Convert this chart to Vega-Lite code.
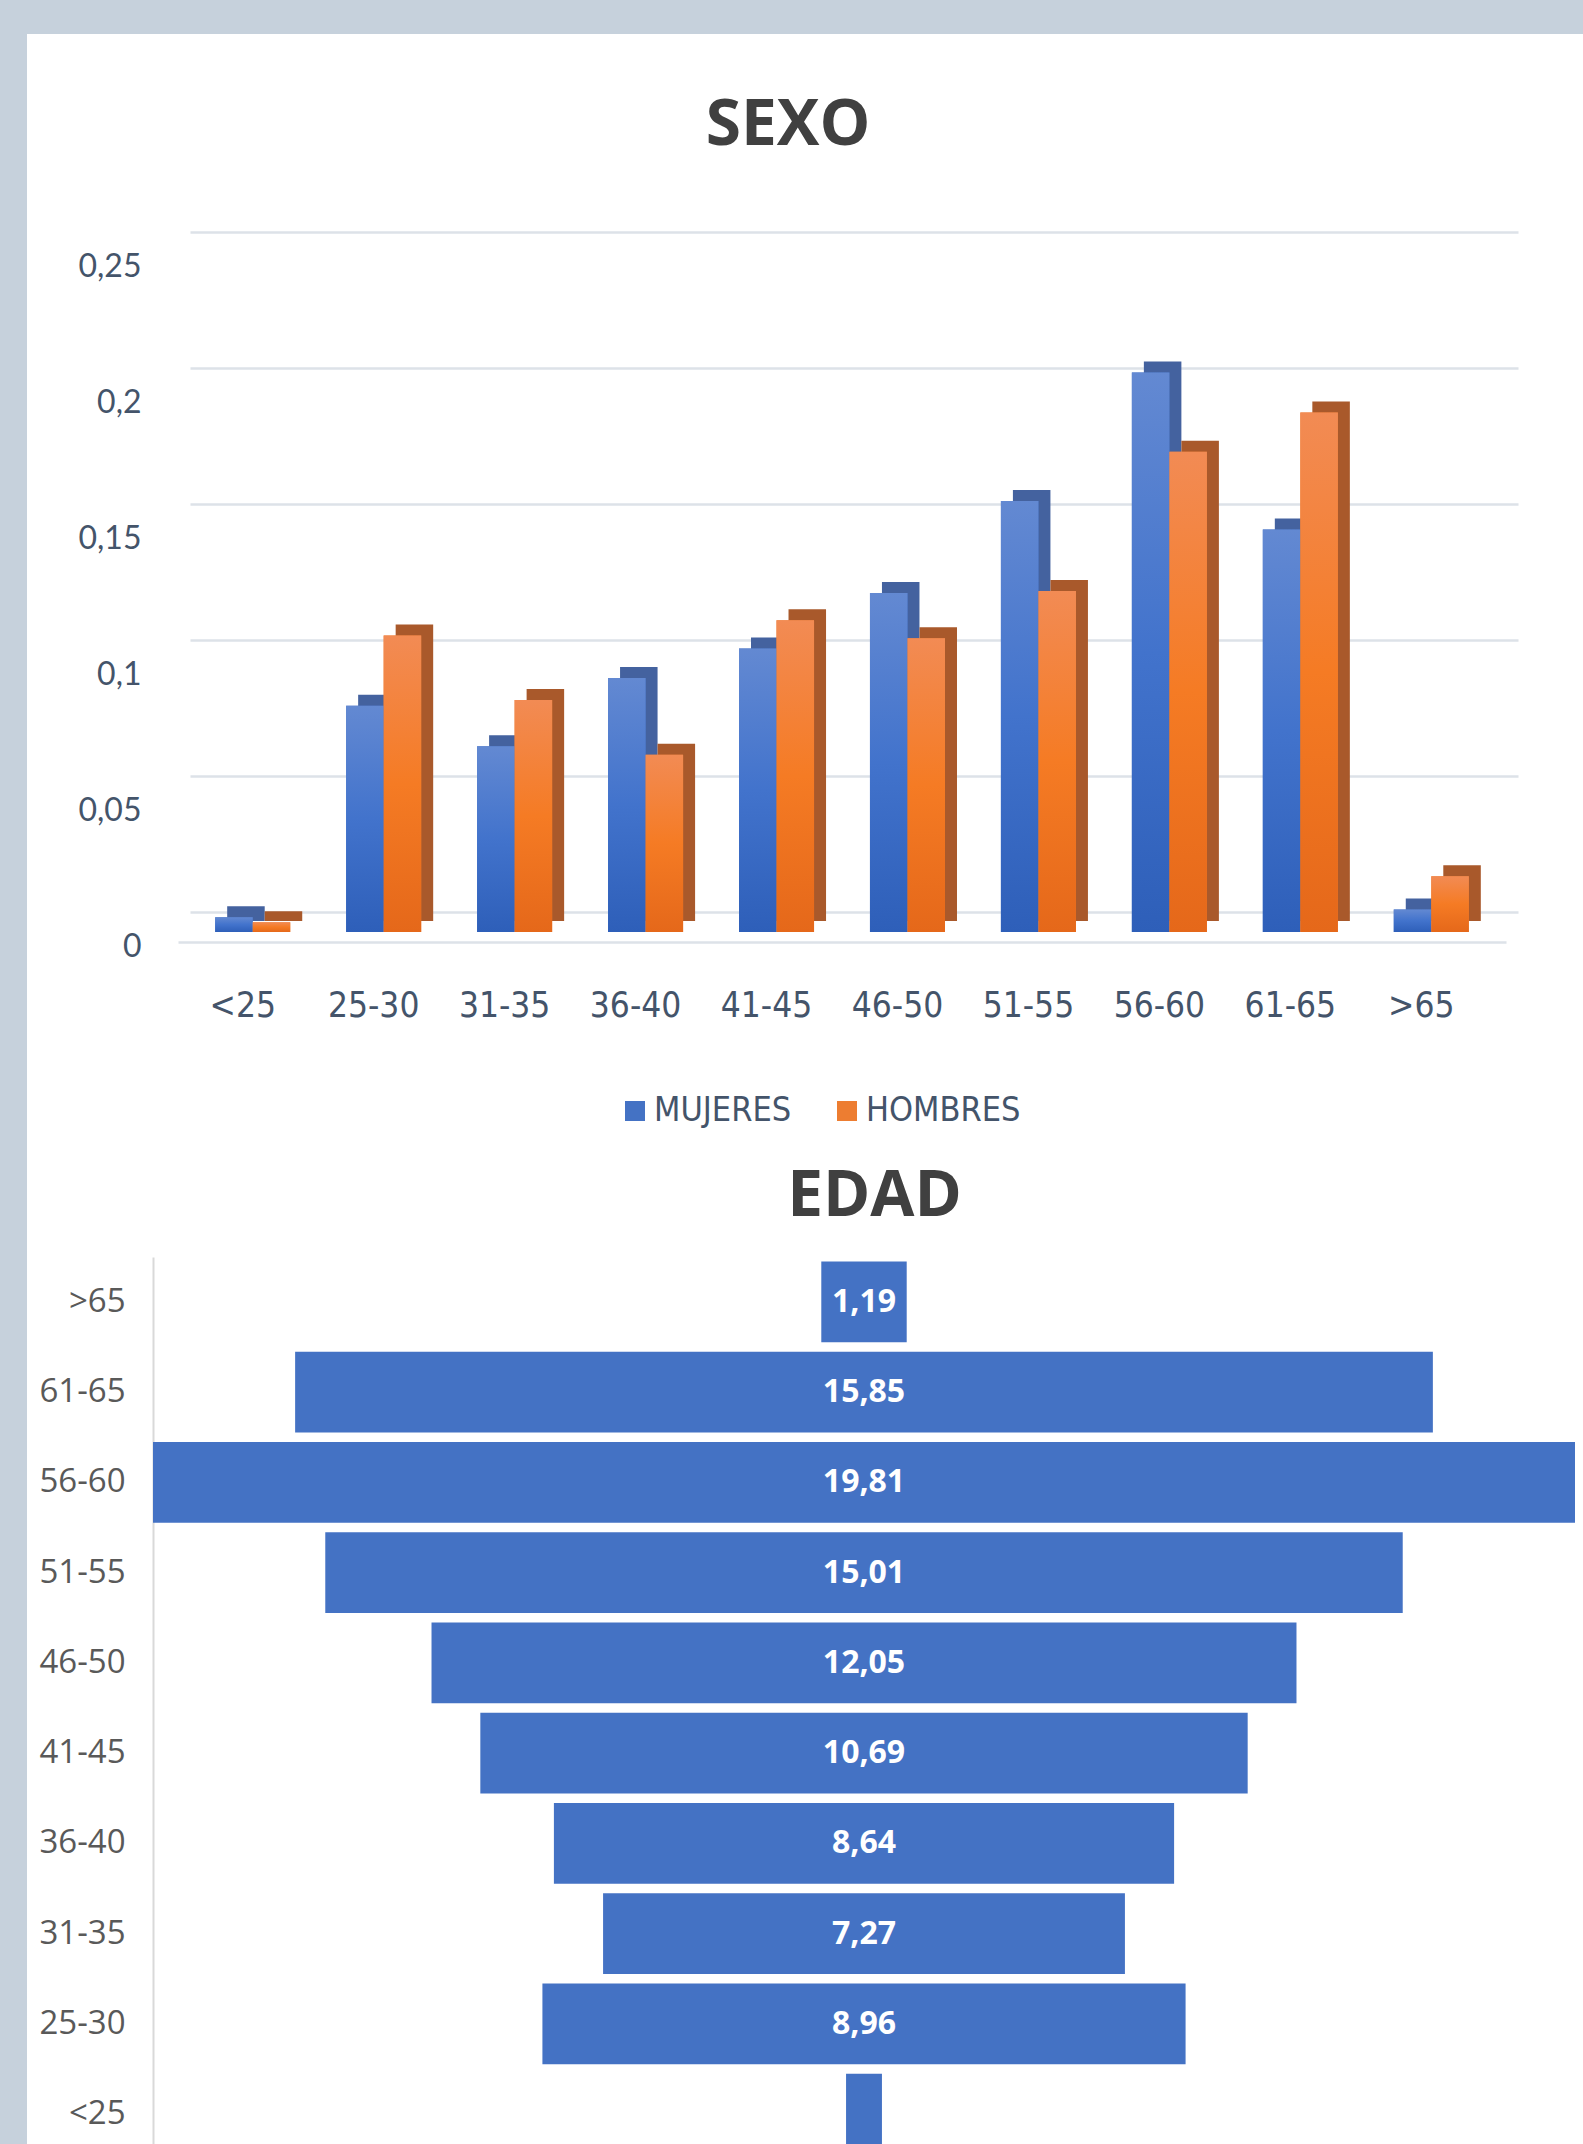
{
  "$schema": "https://vega.github.io/schema/vega-lite/v6.json",
  "background": "white",
  "padding": 0,
  "autosize": {"type": "pad"},
  "config": {
    "locale": {"number": {"decimal": ",", "thousands": ".", "grouping": [3], "currency": ["", " €"]}},
    "view": {"stroke": null},
    "concat": {"spacing": 0}
  },
  "datasets": {
    "vacio": [],
    "sexo": [
      {"edad": "<25", "sexo": "MUJERES", "valor": 0.0054},
      {"edad": "<25", "sexo": "HOMBRES", "valor": 0.0036},
      {"edad": "25-30", "sexo": "MUJERES", "valor": 0.0832},
      {"edad": "25-30", "sexo": "HOMBRES", "valor": 0.109},
      {"edad": "31-35", "sexo": "MUJERES", "valor": 0.0683},
      {"edad": "31-35", "sexo": "HOMBRES", "valor": 0.0853},
      {"edad": "36-40", "sexo": "MUJERES", "valor": 0.0934},
      {"edad": "36-40", "sexo": "HOMBRES", "valor": 0.0652},
      {"edad": "41-45", "sexo": "MUJERES", "valor": 0.1042},
      {"edad": "41-45", "sexo": "HOMBRES", "valor": 0.1146},
      {"edad": "46-50", "sexo": "MUJERES", "valor": 0.1246},
      {"edad": "46-50", "sexo": "HOMBRES", "valor": 0.108},
      {"edad": "51-55", "sexo": "MUJERES", "valor": 0.1585},
      {"edad": "51-55", "sexo": "HOMBRES", "valor": 0.1254},
      {"edad": "56-60", "sexo": "MUJERES", "valor": 0.2057},
      {"edad": "56-60", "sexo": "HOMBRES", "valor": 0.1766},
      {"edad": "61-65", "sexo": "MUJERES", "valor": 0.148},
      {"edad": "61-65", "sexo": "HOMBRES", "valor": 0.191},
      {"edad": ">65", "sexo": "MUJERES", "valor": 0.0083},
      {"edad": ">65", "sexo": "HOMBRES", "valor": 0.0205}
    ],
    "edad": [
      {"edad": ">65", "pct": 1.19},
      {"edad": "61-65", "pct": 15.85},
      {"edad": "56-60", "pct": 19.81},
      {"edad": "51-55", "pct": 15.01},
      {"edad": "46-50", "pct": 12.05},
      {"edad": "41-45", "pct": 10.69},
      {"edad": "36-40", "pct": 8.64},
      {"edad": "31-35", "pct": 7.27},
      {"edad": "25-30", "pct": 8.96},
      {"edad": "<25", "pct": 0.5}
    ]
  },
  "spacing": 0,
  "vconcat": [
    {
      "data": {"name": "vacio"},
      "mark": "point",
      "encoding": {},
      "width": 1583,
      "height": 34,
      "view": {"fill": "#c6d1dc", "stroke": null}
    },
    {
      "spacing": 0,
      "hconcat": [
        {
          "data": {"name": "vacio"},
          "mark": "point",
          "encoding": {},
          "width": 27,
          "height": 2200,
          "view": {"fill": "#c6d1dc", "stroke": null}
        },
        {
          "spacing": 0,
          "vconcat": [
            {
              "data": {"name": "vacio"},
              "mark": "point",
              "encoding": {},
              "width": 1,
              "height": 60
            },
            {
              "spacing": 37,
              "vconcat": [
                {
                  "width": 1328,
                  "height": 680,
                  "data": {"name": "sexo"},
                  "title": {
                    "text": "SEXO",
                    "font": "Open Sans",
                    "fontSize": 64,
                    "fontWeight": "bold",
                    "color": "#404040",
                    "anchor": "middle",
                    "frame": "group",
                    "dx": -54,
                    "baseline": "alphabetic",
                    "offset": 41
                  },
                  "encoding": {
                    "y": {
                      "field": "valor",
                      "type": "quantitative",
                      "scale": {"domain": [0, 0.25], "nice": false},
                      "axis": {
                        "title": null,
                        "values": [0, 0.05, 0.1, 0.15, 0.2, 0.25],
                        "format": "~f",
                        "domain": false,
                        "ticks": false,
                        "labelPadding": 37,
                        "labelFont": "Lato",
                        "labelFontSize": 32,
                        "labelColor": "#44546a",
                        "labelFlush": false,
                        "labelOverlap": false,
                        "grid": true,
                        "gridColor": "#dde2e8",
                        "gridWidth": 2.5,
                        "tickOffset": -20,
                        "labelOffset": 34,
                        "minExtent": 151,
                        "maxExtent": 151
                      }
                    }
                  },
                  "layer": [
                    {
                      "mark": {"type": "bar", "yOffset": -11},
                      "encoding": {
                        "x": {
                          "field": "edad",
                          "type": "nominal",
                          "sort": ["<25", "25-30", "31-35", "36-40", "41-45", "46-50", "51-55", "56-60", "61-65", ">65"],
                          "scale": {"paddingInner": 0.427, "paddingOuter": 0.284, "range": [12, 1340]},
                          "axis": null
                        },
                        "xOffset": {
                          "field": "sexo",
                          "type": "nominal",
                          "sort": ["MUJERES", "HOMBRES"],
                          "scale": {"paddingInner": 0, "paddingOuter": 0}
                        },
                        "color": {
                          "field": "sexo",
                          "type": "nominal",
                          "scale": {"domain": ["MUJERES", "HOMBRES"], "range": ["#44629f", "#a9592b"]},
                          "legend": null
                        }
                      }
                    },
                    {
                      "mark": {"type": "bar"},
                      "encoding": {
                        "x": {
                          "field": "edad",
                          "type": "nominal",
                          "sort": ["<25", "25-30", "31-35", "36-40", "41-45", "46-50", "51-55", "56-60", "61-65", ">65"],
                          "scale": {"paddingInner": 0.427, "paddingOuter": 0.284},
                          "axis": {
                            "title": null,
                            "labelAngle": 0,
                            "ticks": false,
                            "offset": 10,
                            "domainColor": "#dde2e8",
                            "domainWidth": 2.5,
                            "labelPadding": 46,
                            "labelOffset": -10,
                            "labelFont": "DejaVu Sans Condensed, Roboto Condensed, Roboto",
                            "labelFontSize": 35,
                            "labelColor": "#44546a",
                            "grid": false
                          }
                        },
                        "xOffset": {
                          "field": "sexo",
                          "type": "nominal",
                          "sort": ["MUJERES", "HOMBRES"],
                          "scale": {"paddingInner": 0, "paddingOuter": 0}
                        },
                        "color": {
                          "field": "sexo",
                          "type": "nominal",
                          "scale": {"domain": ["MUJERES", "HOMBRES"], "range": ["#4472c4", "#ed7d31"]},
                          "legend": {
                            "title": null,
                            "orient": "none",
                            "legendX": 440,
                            "legendY": 842,
                            "direction": "horizontal",
                            "padding": 0,
                            "symbolType": "square",
                            "symbolSize": 400,
                            "symbolStrokeWidth": 0,
                            "labelFont": "DejaVu Sans Condensed, Roboto Condensed, Roboto",
                            "labelFontSize": 34,
                            "labelColor": "#44546a",
                            "labelOffset": 2,
                            "columnPadding": 38
                          }
                        }
                      }
                    },
                    {
                      "transform": [{"filter": "datum.sexo === 'MUJERES'"}],
                      "mark": {
                        "type": "bar",
                        "color": {"gradient": "linear", "x1": 0, "y1": 0, "x2": 0, "y2": 1, "stops": [{"offset": 0, "color": "#6389d2"}, {"offset": 0.5, "color": "#4273cc"}, {"offset": 1, "color": "#2e5fb9"}]}
                      },
                      "encoding": {
                        "x": {
                          "field": "edad",
                          "type": "nominal",
                          "sort": ["<25", "25-30", "31-35", "36-40", "41-45", "46-50", "51-55", "56-60", "61-65", ">65"],
                          "scale": {"paddingInner": 0.427, "paddingOuter": 0.284},
                          "axis": null
                        },
                        "xOffset": {
                          "field": "sexo",
                          "type": "nominal",
                          "sort": ["MUJERES", "HOMBRES"],
                          "scale": {"domain": ["MUJERES", "HOMBRES"], "paddingInner": 0, "paddingOuter": 0}
                        }
                      }
                    },
                    {
                      "transform": [{"filter": "datum.sexo === 'HOMBRES'"}],
                      "mark": {
                        "type": "bar",
                        "color": {"gradient": "linear", "x1": 0, "y1": 0, "x2": 0, "y2": 1, "stops": [{"offset": 0, "color": "#f28b54"}, {"offset": 0.5, "color": "#f57b24"}, {"offset": 1, "color": "#e5681a"}]}
                      },
                      "encoding": {
                        "x": {
                          "field": "edad",
                          "type": "nominal",
                          "sort": ["<25", "25-30", "31-35", "36-40", "41-45", "46-50", "51-55", "56-60", "61-65", ">65"],
                          "scale": {"paddingInner": 0.427, "paddingOuter": 0.284},
                          "axis": null
                        },
                        "xOffset": {
                          "field": "sexo",
                          "type": "nominal",
                          "sort": ["MUJERES", "HOMBRES"],
                          "scale": {"domain": ["MUJERES", "HOMBRES"], "paddingInner": 0, "paddingOuter": 0}
                        }
                      }
                    }
                  ],
                  "resolve": {"scale": {"x": "independent", "xOffset": "independent", "color": "independent"}}
                },
                {
                  "width": 1397,
                  "height": 902,
                  "data": {"name": "edad"},
                  "title": {
                    "text": "EDAD",
                    "font": "Open Sans",
                    "fontSize": 64,
                    "fontWeight": "bold",
                    "color": "#404040",
                    "anchor": "middle",
                    "frame": "group",
                    "dx": -2,
                    "baseline": "alphabetic",
                    "offset": -23
                  },
                  "encoding": {
                    "y": {
                      "field": "edad",
                      "type": "nominal",
                      "sort": [">65", "61-65", "56-60", "51-55", "46-50", "41-45", "36-40", "31-35", "25-30", "<25"],
                      "scale": {"paddingInner": 0.105, "paddingOuter": 0.05},
                      "axis": {
                        "title": null,
                        "ticks": false,
                        "offset": 25,
                        "domainColor": "#d9d9d9",
                        "domainWidth": 2,
                        "labelPadding": 28,
                        "labelFont": "Open Sans",
                        "labelFontSize": 33,
                        "labelColor": "#595959"
                      }
                    }
                  },
                  "layer": [
                    {
                      "mark": {"type": "bar", "color": "#4472c4"},
                      "encoding": {
                        "x": {
                          "field": "pct",
                          "type": "quantitative",
                          "stack": "center",
                          "scale": {"domain": [0, 19.81], "nice": false, "zero": false, "range": [-25, 1397]},
                          "axis": null
                        }
                      }
                    },
                    {
                      "transform": [{"filter": "datum.pct >= 1"}],
                      "mark": {"type": "text", "font": "Open Sans", "fontSize": 32, "fontWeight": "bold", "color": "white"},
                      "encoding": {
                        "x": {"datum": 9.905, "type": "quantitative"},
                        "text": {"field": "pct", "type": "quantitative", "format": ".2f"}
                      }
                    }
                  ]
                }
              ]
            }
          ]
        }
      ]
    }
  ]
}
